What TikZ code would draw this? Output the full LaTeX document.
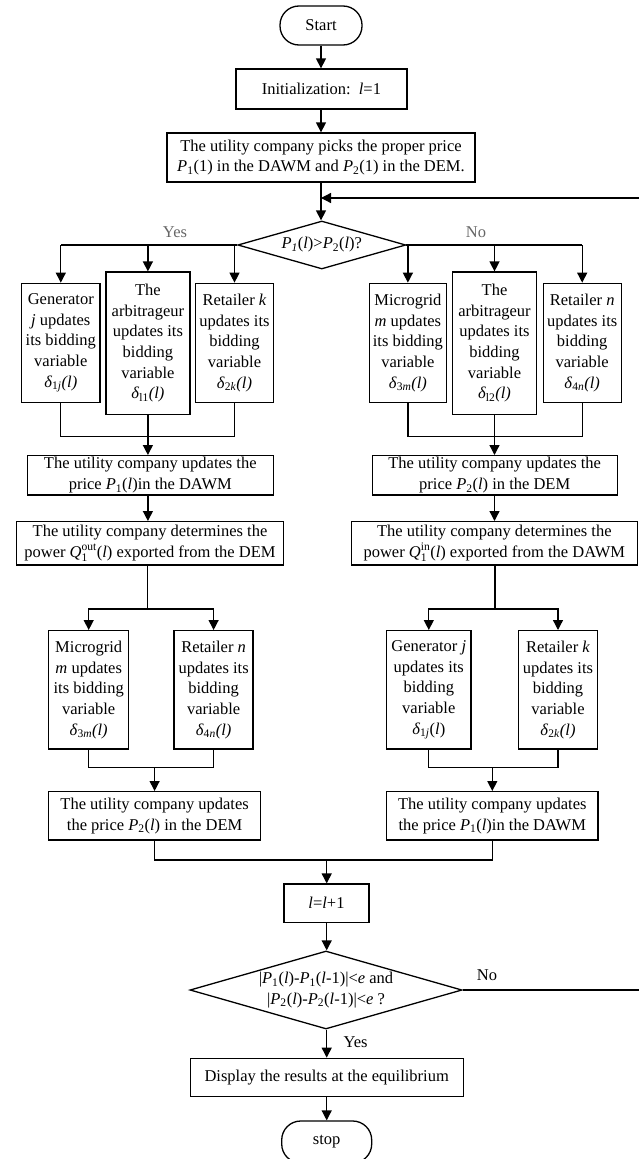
\documentclass[tikz,border=0pt]{standalone}
\usepackage{fontspec}
\setmainfont{Liberation Serif}
\usepackage{tikz}
\usetikzlibrary{arrows.meta}
\usetikzlibrary{shapes.geometric}

\tikzset{
  box/.style={draw, line width=1.3pt, align=center, inner sep=0pt},
  term/.style={box, rounded corners=19pt},
  decide/.style={diamond, draw, line width=1.3pt, align=center, inner sep=0pt, aspect=3.5},
  arr/.style={line width=1.3pt, -{Triangle[length=10pt,width=10pt]}},
  ln/.style={line width=1.3pt},
  lbl/.style={inner sep=0pt}
}

\begin{document}
\begin{tikzpicture}[x=1pt,y=-1pt,font=\fontsize{16.5}{20.7}\selectfont]
  \useasboundingbox (0,0) rectangle (638,1159);
  % top part
  \node[term, minimum width=82, minimum height=39] (start) at (321,25.5) {Start};
  \node[box, minimum width=171, minimum height=40] (init) at (321.4,89) {Initialization:\ \ \textit{l}=1};
  \node[box, minimum width=308, minimum height=49] (pick) at (321,157.5) {The utility company picks the proper price\\ \textit{P}\textsubscript{1}(1) in the DAWM and \textit{P}\textsubscript{2}(1) in the DEM.};
  \node[decide, minimum width=168, minimum height=48] (cmp) at (321.8,245) {\textit{P}\textsubscript{\textit{1}}(\textit{l})>\textit{P}\textsubscript{2}(\textit{l})?};
  \node[lbl, text=black!60] (yesA) at (175,231.7) {Yes};
  \node[lbl, text=black!60] (noA) at (476,231.7) {No};
  % first bidding round
  \node[box, minimum width=78.5, minimum height=119.4] (gen) at (60.8,343) {Generator\\ \textit{j} updates\\ its bidding\\ variable\\ \textit{δ}\textsubscript{1\textit{j}}\textit{(l)}};
  \node[box, minimum width=84, minimum height=142.3] (arbA) at (147.9,343.2) {The\\ arbitrageur\\ updates its\\ bidding\\ variable\\ \textit{δ}\textsubscript{l1}\textit{(l)}};
  \node[box, minimum width=78.5, minimum height=119.4] (retk) at (234.5,343) {Retailer \textit{k}\\ updates its\\ bidding\\ variable\\ \textit{δ}\textsubscript{2\textit{k}}\textit{(l)}};
  \node[box, minimum width=77, minimum height=119.4] (mic) at (407.9,343) {Microgrid\\ \textit{m} updates\\ its bidding\\ variable\\ \textit{δ}\textsubscript{3\textit{m}}\textit{(l)}};
  \node[box, minimum width=83.4, minimum height=142.3] (arbB) at (494.5,343.2) {The\\ arbitrageur\\ updates its\\ bidding\\ variable\\ \textit{δ}\textsubscript{l2}\textit{(l)}};
  \node[box, minimum width=78, minimum height=119.4] (retn) at (582.2,343) {Retailer \textit{n}\\ updates its\\ bidding\\ variable\\ \textit{δ}\textsubscript{4\textit{n}}\textit{(l)}};
  % price updates
  \node[box, minimum width=246, minimum height=39.3] (updA) at (150.3,475.3) {The utility company updates the\\ price \textit{P}\textsubscript{1}(\textit{l})in the DAWM};
  \node[box, minimum width=245, minimum height=39.3] (updB) at (494.7,475.3) {The utility company updates the\\ price \textit{P}\textsubscript{2}(\textit{l}) in the DEM};
  \node[box, minimum width=267, minimum height=43.3] (detA) at (150,543.3) {The utility company determines the\\ power \textit{Q}$_{\mathrm{1}}^{\mathrm{out}}$(\textit{l}) exported from the DEM};
  \node[box, minimum width=286, minimum height=43.3] (detB) at (494.3,543.3) {The utility company determines the\\ power \textit{Q}$_{\mathrm{1}}^{\mathrm{in}}$(\textit{l}) exported from the DAWM};
  % second bidding round
  \node[box, minimum width=80, minimum height=118.3] (mic2) at (88.7,689.8) {Microgrid\\ \textit{m} updates\\ its bidding\\ variable\\ \textit{δ}\textsubscript{3\textit{m}}\textit{(l)}};
  \node[box, minimum width=79, minimum height=118.3] (retn2) at (213.6,689.8) {Retailer \textit{n}\\ updates its\\ bidding\\ variable\\ \textit{δ}\textsubscript{4\textit{n}}\textit{(l)}};
  \node[box, minimum width=84.6, minimum height=118.3] (gen2) at (428.8,689.8) {Generator \textit{j}\\ updates its\\ bidding\\ variable\\ \textit{δ}\textsubscript{1\textit{j}}(\textit{l})};
  \node[box, minimum width=78.5, minimum height=118.3] (retk2) at (558,689.8) {Retailer \textit{k}\\ updates its\\ bidding\\ variable\\ \textit{δ}\textsubscript{2\textit{k}}\textit{(l)}};
  \node[box, minimum width=211.6, minimum height=48.3] (updC) at (154.6,815.8) {The utility company updates\\ the price \textit{P}\textsubscript{2}(\textit{l}) in the DEM};
  \node[box, minimum width=211.5, minimum height=48.3] (updD) at (492.3,815.8) {The utility company updates\\ the price \textit{P}\textsubscript{1}(\textit{l})in the DAWM};
  % bottom part
  \node[box, minimum width=85, minimum height=38.3] (inc) at (326.5,903.2) {\textit{l}=\textit{l}+1};
  \node[decide, minimum width=272, minimum height=78] (conv) at (326,990) {|\textit{P}\textsubscript{1}(\textit{l})-\textit{P}\textsubscript{1}(\textit{l}-1)|<\textit{e} and\\ |\textit{P}\textsubscript{2}(\textit{l})-\textit{P}\textsubscript{2}(\textit{l}-1)|<\textit{e} ?};
  \node[lbl] (noB) at (487,975) {No};
  \node[lbl] (yesB) at (355.5,1041.7) {Yes};
  \node[box, minimum width=273, minimum height=38.4] (show) at (326.7,1077.5) {Display the results at the equilibrium};
  \node[term, minimum width=90, minimum height=42] (stop) at (326.7,1142) {stop};

  \coordinate (loopR) at (640,990);
  \coordinate (loopT) at (640,198);
  \coordinate (mA) at (147.9,436.7);
  \coordinate (mB) at (494.5,436.7);
  \coordinate (sA) at (147.7,609);
  \coordinate (sB) at (495,609);
  \coordinate (mC) at (154.6,767.3);
  \coordinate (mD) at (492.3,767.3);
  \coordinate (mE) at (326.7,860);

  \draw[arr] (start.south) -- (start.south |- init.north);
  \draw[arr] (init.south -| start.south) -- (start.south |- pick.north);
  \draw[arr] (pick.south -| start.south) -- (start.south |- cmp.north);
  \draw[arr] (conv.east) -- (loopR) -- (loopT) -- (loopT -| start.south);

  % Yes branch
  \draw[ln] (cmp.west) -- (cmp.west -| gen.north);
  \draw[arr] (cmp.west -| gen.north) -- (gen.north);
  \draw[arr] (cmp.west -| arbA.north) -- (arbA.north);
  \draw[arr] (cmp.west -| retk.north) -- (retk.north);
  \draw[ln] (gen.south) |- (mA) -| (retk.south);
  \draw[arr] (arbA.south) -- (arbA.south |- updA.north);
  \draw[arr] (updA.south -| mA) -- (mA |- detA.north);
  \draw[ln] (detA.south -| sA) -- (sA);
  \draw[arr] (sA) -| (mic2.north);
  \draw[arr] (sA) -| (retn2.north);
  \draw[ln] (mic2.south) |- (mC) -| (retn2.south);
  \draw[arr] (mC) -- (updC.north);

  % No branch
  \draw[ln] (cmp.east) -- (cmp.east -| retn.north);
  \draw[arr] (cmp.east -| mic.north) -- (mic.north);
  \draw[arr] (cmp.east -| arbB.north) -- (arbB.north);
  \draw[arr] (cmp.east -| retn.north) -- (retn.north);
  \draw[ln] (mic.south) |- (mB) -| (retn.south);
  \draw[arr] (arbB.south) -- (arbB.south |- updB.north);
  \draw[arr] (updB.south -| mB) -- (mB |- detB.north);
  \draw[ln] (detB.south -| sB) -- (sB);
  \draw[arr] (sB) -| (gen2.north);
  \draw[arr] (sB) -| (retk2.north);
  \draw[ln] (gen2.south) |- (mD) -| (retk2.south);
  \draw[arr] (mD) -- (updD.north);

  % loop end
  \draw[ln] (updC.south) |- (mE) -| (updD.south);
  \draw[arr] (mE) -- (mE |- inc.north);
  \draw[arr] (inc.south -| mE) -- (mE |- conv.north);
  \draw[arr] (conv.south -| mE) -- (mE |- show.north);
  \draw[arr] (show.south -| mE) -- (mE |- stop.north);
\end{tikzpicture}
\end{document}
